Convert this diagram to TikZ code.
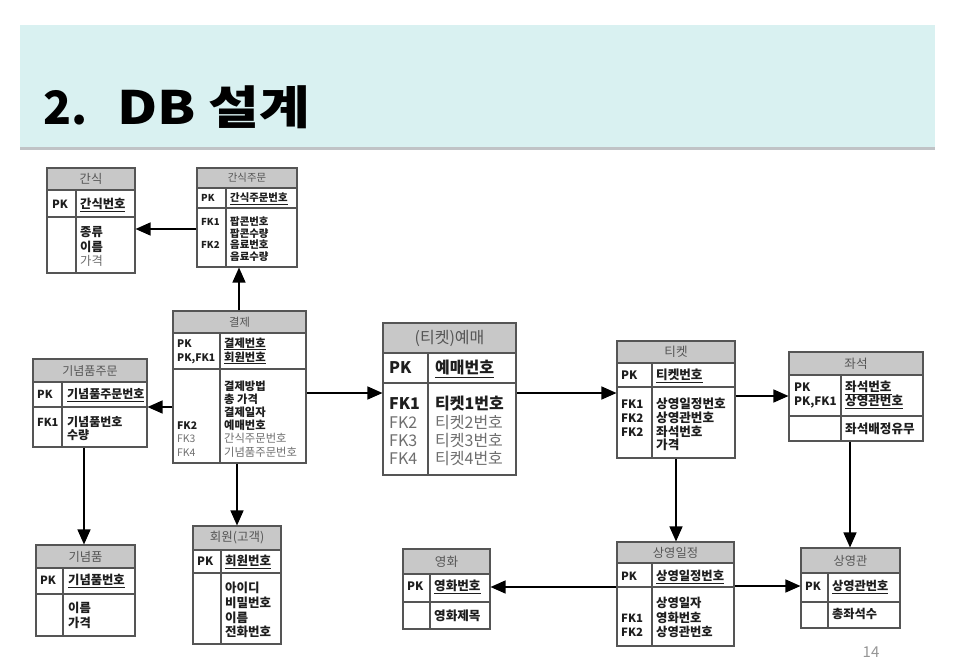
\documentclass[tikz,border=0pt]{standalone}
\usepackage{fontspec}
\setmainfont{Noto Sans CJK KR}
\usetikzlibrary{arrows.meta,fit}

\definecolor{band}{RGB}{217,241,241}
\definecolor{bandshadow}{RGB}{150,155,160}
\definecolor{hdrgray}{RGB}{200,200,200}
\definecolor{frame}{RGB}{85,85,85}
\definecolor{hdrtxt}{RGB}{85,85,85}
\definecolor{cellblack}{RGB}{30,30,30}
\definecolor{softgray}{RGB}{110,110,110}
\definecolor{pagenum}{RGB}{150,150,150}

% cell text helpers
\newcommand\bd[1]{\textbf{#1}}
\newcommand\gr[1]{\textcolor{softgray}{#1}}
\newcommand\pk[1]{\underline{#1}}
\def\fs{11}

\tikzset{
  tblframe/.style={draw=frame, line width=1.1pt, inner sep=0pt},
  tblline/.style={draw=frame, line width=1.1pt},
  hdrtext/.style={text=hdrtxt, inner sep=0pt, font=\fontsize{\fs}{\fs}\selectfont},
  celltext/.style={anchor=base west, inner sep=0pt, text=cellblack, font=\fontsize{\fs}{\fs}\selectfont},
  keytext/.style={celltext, font=\fontsize{\fpeval{0.92*\fs}}{\fs}\selectfont},
  link/.style={draw=black, line width=1.4pt, -{Triangle[length=15pt,width=13pt]}},
  headline/.style={anchor=base west, inner sep=0pt, font=\fontsize{46}{46}\selectfont\bfseries},
}

% entity table: name, left, top, right, bottom, header bottom, key-row bottom, column divider, title
\newcommand\ertable[9]{%
  \fill[hdrgray] (#2,#3) rectangle (#4,#6);
  \node[tblframe, fit={(#2,#3) (#4,#5)}] (#1) {};
  \draw[tblline] (#2,#6) -- (#4,#6) (#2,#7) -- (#4,#7) (#8,#6) -- (#8,#5);
  \node[hdrtext] (#1-title) at ({(#2+#4)/2},{(#3+#6)/2}) {#9};
}
% a column of cell lines: name prefix, x, centre y of first line, line pitch, items
\newcommand\rows[5]{%
  \foreach \t [count=\i from 0] in {#5}{%
    \node[celltext] (#1\i) at (#2,{#3+\i*#4+0.37*\fs}) {\t};}%
}
% the same for the key column (PK / FK marks)
\newcommand\keys[5]{%
  \foreach \t [count=\i from 0] in {#5}{%
    \node[keytext] (#1\i) at (#2,{#3+\i*#4+0.37*\fs}) {\t};}%
}

\begin{document}
\begin{tikzpicture}[x=1pt,y=-1pt]
\useasboundingbox (0,0) rectangle (971,667);
\fill[white] (0,0) rectangle (971,667);

% title band
\fill[bandshadow!60] (20,146) rectangle (935,150);
\fill[band] (20,25) rectangle (935,147);
\node[headline] (titlenum) at (43,124) {2.};
\node[headline] (titletext) at (117,124) {\scalebox{1.2}[1]{DB 설계}};

% ---------- 간식
\def\fs{12.3}
\ertable{gansik}{47}{168}{135}{273}{190}{217}{76}{간식}
\keys{gansikK}{52}{204}{0}{\bd{PK}}
\rows{gansikP}{80}{204}{0}{\bd{\pk{간식번호}}}
\rows{gansikA}{80}{232}{14.5}{\bd{종류},\bd{이름},\gr{가격}}

% ---------- 간식주문
\def\fs{10.4}
\ertable{snack}{197}{168}{297}{267}{188}{208}{226}{간식주문}
\keys{snackK}{201}{198}{0}{\bd{PK}}
\rows{snackP}{230}{198}{0}{\bd{\pk{간식주문번호}}}
\keys{snackF}{201}{222}{23}{\bd{FK1},\bd{FK2}}
\rows{snackA}{230}{222}{11.5}{\bd{팝콘번호},\bd{팝콘수량},\bd{음료번호},\bd{음료수량}}

% ---------- 결제
\def\fs{11.3}
\ertable{pay}{173}{311}{306}{463}{333}{369}{220}{결제}
\keys{payK}{177}{343}{14}{\bd{PK},\bd{PK,FK1}}
\rows{payP}{224}{343}{14}{\bd{\pk{결제번호}},\bd{\pk{회원번호}}}
\rows{payA}{224}{386}{13.2}{\bd{결제방법},\bd{총 가격},\bd{결제일자},\bd{예매번호},\gr{간식주문번호},\gr{기념품주문번호}}
\keys{payF}{177}{425.6}{13.2}{\bd{FK2},\gr{FK3},\gr{FK4}}

% ---------- 기념품주문
\def\fs{12}
\ertable{gorder}{33}{359}{147}{447}{382}{407}{62}{기념품주문}
\keys{gorderK}{37}{394}{0}{\bd{PK}}
\rows{gorderP}{67}{394}{0}{\bd{\pk{기념품주문번호}}}
\keys{gorderF}{37}{422}{0}{\bd{FK1}}
\rows{gorderA}{67}{422}{13}{\bd{기념품번호},\bd{수량}}

% ---------- 기념품
\def\fs{12.3}
\ertable{gift}{36}{545}{135}{636}{568}{594}{63}{기념품}
\keys{giftK}{40}{580}{0}{\bd{PK}}
\rows{giftP}{68}{580}{0}{\bd{\pk{기념품번호}}}
\rows{giftA}{68}{608}{15}{\bd{이름},\bd{가격}}

% ---------- 회원(고객)
\def\fs{12.5}
\ertable{member}{193}{526}{281}{644}{550}{573}{221}{회원(고객)}
\keys{memberK}{197}{561}{0}{\bd{PK}}
\rows{memberP}{225}{561}{0}{\bd{\pk{회원번호}}}
\rows{memberA}{225}{588}{14.7}{\bd{아이디},\bd{비밀번호},\bd{이름},\bd{전화번호}}

% ---------- (티켓)예매
\def\fs{16}
\ertable{booking}{383}{323}{516}{475}{353}{383}{428}{(티켓)예매}
\rows{bookingK}{389}{368}{0}{\bd{PK}}
\rows{bookingP}{435}{368}{0}{\bd{\pk{예매번호}}}
\rows{bookingF}{389}{404}{18.3}{\bd{FK1},\gr{FK2},\gr{FK3},\gr{FK4}}
\rows{bookingA}{435}{404}{18.3}{\bd{티켓1번호},\gr{티켓2번호},\gr{티켓3번호},\gr{티켓4번호}}

% ---------- 티켓
\def\fs{12.6}
\ertable{ticket}{617}{341}{735}{458}{363}{387}{652}{티켓}
\keys{ticketK}{621}{375}{0}{\bd{PK}}
\rows{ticketP}{656}{375}{0}{\bd{\pk{티켓번호}}}
\keys{ticketF}{621}{404}{13.7}{\bd{FK1},\bd{FK2},\bd{FK2}}
\rows{ticketA}{656}{404}{13.7}{\bd{상영일정번호},\bd{상영관번호},\bd{좌석번호},\bd{가격}}

% ---------- 좌석
\def\fs{12.6}
\ertable{seat}{789}{352}{923}{441}{375}{416}{841}{좌석}
\keys{seatK}{794}{387}{14}{\bd{PK},\bd{PK,FK1}}
\rows{seatP}{845}{387}{14}{\bd{\pk{좌석번호}},\bd{\pk{상영관번호}}}
\rows{seatA}{845}{429}{0}{\bd{좌석배정유무}}

% ---------- 영화
\def\fs{12.6}
\ertable{movie}{403}{549}{490}{629}{574}{602}{430}{영화}
\keys{movieK}{407}{586}{0}{\bd{PK}}
\rows{movieP}{434}{586}{0}{\bd{\pk{영화번호}}}
\rows{movieA}{434}{616}{0}{\bd{영화제목}}

% ---------- 상영일정
\def\fs{12.3}
\ertable{show}{617}{542}{734}{646}{563}{587}{652}{상영일정}
\keys{showK}{621}{576}{0}{\bd{PK}}
\rows{showP}{656}{576}{0}{\bd{\pk{상영일정번호}}}
\rows{showA}{656}{603}{14.5}{\bd{상영일자},\bd{영화번호},\bd{상영관번호}}
\keys{showF}{621}{617.5}{14.5}{\bd{FK1},\bd{FK2}}

% ---------- 상영관
\def\fs{12.2}
\ertable{hall}{801}{548}{900}{628}{573}{602}{828}{상영관}
\keys{hallK}{805}{586}{0}{\bd{PK}}
\rows{hallP}{832}{586}{0}{\bd{\pk{상영관번호}}}
\rows{hallA}{832}{614}{0}{\bd{총좌석수}}

% ---------- relationships
\draw[link] (snack.west |- 0,229) -- (gansik.east |- 0,229);
\draw[link] (pay.north -| 239,0) -- (snack.south -| 239,0);
\draw[link] (pay.west |- 0,407) -- (gorder.east |- 0,407);
\draw[link] (pay.east |- 0,393) -- (booking.west |- 0,393);
\draw[link] (pay.south -| 237,0) -- (member.north -| 237,0);
\draw[link] (gorder.south -| 84,0) -- (gift.north -| 84,0);
\draw[link] (booking.east |- 0,393) -- (ticket.west |- 0,393);
\draw[link] (ticket.east |- 0,396) -- (seat.west |- 0,396);
\draw[link] (ticket.south -| 676,0) -- (show.north -| 676,0);
\draw[link] (seat.south -| 850,0) -- (hall.north -| 850,0);
\draw[link] (show.west |- 0,587) -- (movie.east |- 0,587);
\draw[link] (show.east |- 0,586) -- (hall.west |- 0,586);

% page number
\node[text=pagenum, inner sep=0pt, font=\fontsize{15}{15}\selectfont] (page) at (871,652) {14};
\end{tikzpicture}
\end{document}
